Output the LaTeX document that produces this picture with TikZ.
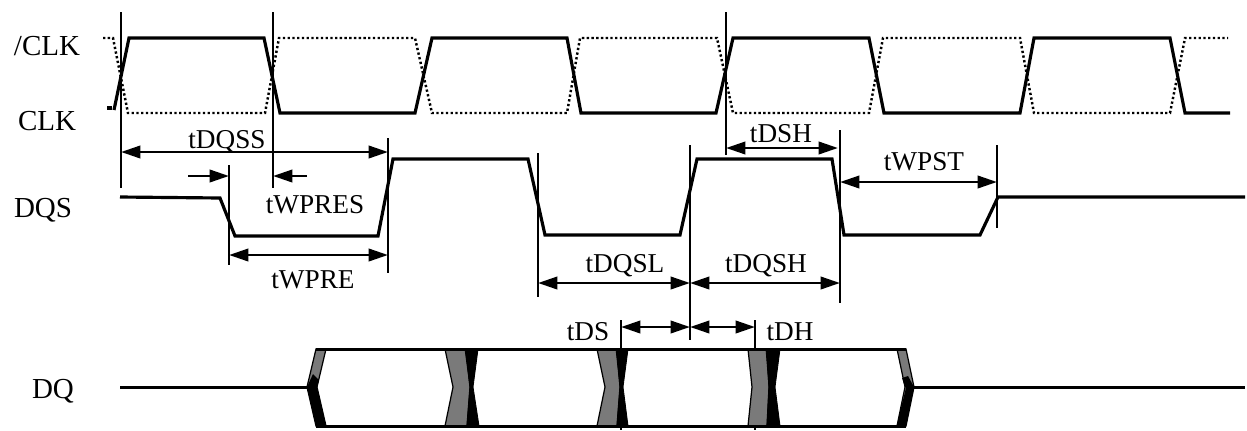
\documentclass[tikz,border=0pt]{standalone}
\usepackage{fontspec}
\setmainfont{Liberation Serif}
\usetikzlibrary{arrows.meta}
\begin{document}
\begin{tikzpicture}[x=0.02cm,y=-0.02cm,
  wave/.style={line width=1.8pt, line join=miter},
  dotwave/.style={line width=1.4pt, dash pattern=on 1.3pt off 1.4pt},
  vline/.style={line width=1.2pt},
  dim/.style={line width=1.6pt, {Triangle[length=11pt,width=7pt]}-{Triangle[length=11pt,width=7pt]}},
  dimr/.style={line width=1.6pt, -{Triangle[length=11pt,width=7pt]}},
  lbl/.style={font=\fontsize{15.5}{18}\selectfont, inner sep=0pt, anchor=base},
  sig/.style={font=\fontsize{16.5}{19}\selectfont, inner sep=0pt, anchor=base},
  hatch/.style={fill=black!52, draw=black, line width=0.7pt},
  blk/.style={fill=black, draw=black, line width=0.5pt},
  dqline/.style={line width=1.7pt},
]
\useasboundingbox (0,0) rectangle (1247,430);

% signal names
\node[sig] (nclk) at (47,55) {/CLK};
\node[sig] (clk)  at (47,130) {CLK};
\node[sig] (dqs)  at (43,217) {DQS};
\node[sig] (dq)   at (53,398) {DQ};

% clocks
\draw[wave] (107,108) -- (112,108);
\draw[wave] (114,110) -- (129,38) -- (264,38) -- (280,113) -- (415,113) -- (432,38)
  -- (567,38) -- (581,113) -- (716,113) -- (733,38) -- (869,38) -- (884,113)
  -- (1020,113) -- (1034,38) -- (1170,38) -- (1185,113) -- (1230,113);
\draw[dotwave] (103,38) -- (113,38) -- (128,113) -- (265,113) -- (279,38) -- (415,38)
  -- (432,113) -- (567,113) -- (580,38) -- (717,38) -- (733,113) -- (869,113)
  -- (883,38) -- (1020,38) -- (1034,113) -- (1170,113) -- (1185,38) -- (1228,38);

% DQS
\draw[wave] (120,197) -- (220,198) -- (235,236) -- (378,236) -- (393,159) -- (528,159)
  -- (545,235) -- (680,235) -- (697,159) -- (832,159) -- (844,235) -- (980,235)
  -- (998,197) -- (1245,197);

% reference vertical lines
\coordinate (a1) at (121,12);  \coordinate (a2) at (121,188);
\coordinate (b1) at (273,12);  \coordinate (b2) at (273,188);
\coordinate (c1) at (229,165); \coordinate (c2) at (229,265);
\coordinate (d1) at (388,138); \coordinate (d2) at (388,273);
\coordinate (e1) at (538,153); \coordinate (e2) at (538,297);
\coordinate (f1) at (690,145); \coordinate (f2) at (690,340);
\coordinate (g1) at (726,12);  \coordinate (g2) at (726,155);
\coordinate (h1) at (840,130); \coordinate (h2) at (840,303);
\coordinate (k1) at (997,145); \coordinate (k2) at (997,228);
\coordinate (m1) at (621,320); \coordinate (m2) at (621,430);
\coordinate (n1) at (755,320); \coordinate (n2) at (755,430);
\foreach \p in {a,b,c,d,e,f,g,h,k,m,n} \draw[vline] (\p1) -- (\p2);

% dimension arrows
\coordinate (tdqss1) at (121,152); \coordinate (tdqss2) at (388,152);
\draw[dim] (tdqss1) -- (tdqss2);
\node[lbl] (ltdqss) at (227,148) {tDQSS};

\coordinate (wr1) at (188,176); \coordinate (wr2) at (229,176);
\coordinate (wl1) at (307,176); \coordinate (wl2) at (273,176);
\draw[dimr] (wr1) -- (wr2);
\draw[dimr] (wl1) -- (wl2);
\node[lbl] (ltwpres) at (315,213) {tWPRES};

\coordinate (twpre1) at (229,255); \coordinate (twpre2) at (388,255);
\draw[dim] (twpre1) -- (twpre2);
\node[lbl] (ltwpre) at (313,288) {tWPRE};

\coordinate (tdqsl1) at (538,283); \coordinate (tdqsl2) at (690,283);
\draw[dim] (tdqsl1) -- (tdqsl2);
\node[lbl] (ltdqsl) at (625,272) {tDQSL};

\coordinate (tdqsh1) at (690,283); \coordinate (tdqsh2) at (840,283);
\draw[dim] (tdqsh1) -- (tdqsh2);
\node[lbl] (ltdqsh) at (766,272) {tDQSH};

\coordinate (tdsh1) at (726,148); \coordinate (tdsh2) at (838,148);
\draw[dim] (tdsh1) -- (tdsh2);
\node[lbl] (ltdsh) at (781,142) {tDSH};

\coordinate (twpst1) at (840,182); \coordinate (twpst2) at (997,182);
\draw[dim] (twpst1) -- (twpst2);
\node[lbl] (ltwpst) at (924,170) {tWPST};

\coordinate (tds1) at (621,327); \coordinate (tds2) at (690,327);
\draw[dim] (tds1) -- (tds2);
\node[lbl] (ltds) at (588,340) {tDS};

\coordinate (tdh1) at (690,327); \coordinate (tdh2) at (755,327);
\draw[dim] (tdh1) -- (tdh2);
\node[lbl] (ltdh) at (790,340) {tDH};

% DQ
\draw[dqline] (120,387) -- (307,387);
\draw[dqline] (914,387) -- (1245,387);
% transitions
\draw[hatch] (316,349) -- (326,349) -- (317,387) -- (326,426) -- (316,426) -- (307,387) -- cycle;
\fill[black] (307,387) -- (313,374) -- (319,380) -- (317,387) -- (326,426) -- (316,426) -- cycle;
\draw[hatch] (445,349) -- (466,349) -- (470,387) -- (467,426) -- (445,426) -- (453,387) -- cycle;
\draw[blk]   (465,349) -- (478,349) -- (473,387) -- (479,426) -- (467,426) -- (470,387) -- cycle;
\draw[hatch] (597,349) -- (617,349) -- (620,387) -- (617,426) -- (597,426) -- (605,387) -- cycle;
\draw[blk]   (616,349) -- (628,349) -- (623,387) -- (628,426) -- (617,426) -- (620,387) -- cycle;
\draw[hatch] (748,349) -- (767,349) -- (769,387) -- (767,426) -- (748,426) -- (752,387) -- cycle;
\draw[blk]   (766,349) -- (780,349) -- (775,387) -- (780,426) -- (767,426) -- (769,387) -- cycle;
\draw[hatch] (897,349) -- (906,349) -- (914,387) -- (906,426) -- (897,426) -- (905,387) -- cycle;
\fill[black] (914,387) -- (906,387) -- (905,392) -- (898,420) -- (897,426) -- (906,426) -- cycle;
\fill[black] (905,387) -- (914,387) -- (908,376) -- (902,378) -- cycle;
% box top and bottom
\draw[dqline] (316,349) -- (906,349);
\draw[dqline] (316,426) -- (906,426);
\end{tikzpicture}
\end{document}
